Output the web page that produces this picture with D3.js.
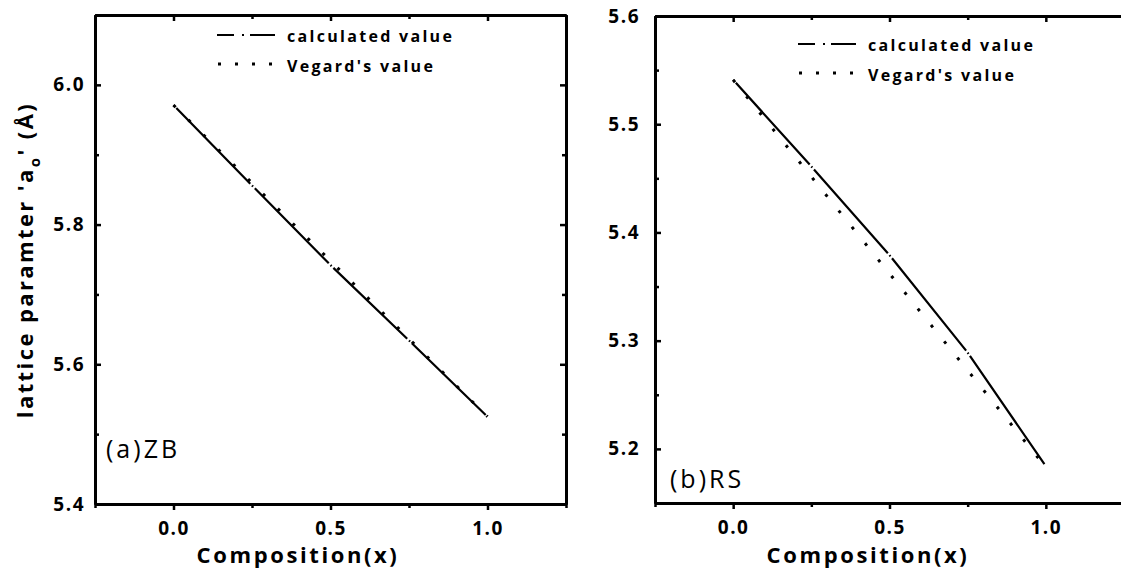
<!DOCTYPE html>
<html>
<head>
  <meta charset="utf-8">
  <script src="https://d3js.org/d3.v7.min.js"></script>
  <style>
    body { margin: 0; background: #fff; }
    text { font-family: "Open Sans", "DejaVu Sans", sans-serif; fill: #000; }
    .axis path, .axis line { stroke: #000; }
    .axis path { stroke-width: 3px; }
    .axis line { stroke-width: 2.5px; }
    .axis text { font-size: 19px; font-weight: bold; letter-spacing: 1.5px; }
  </style>
</head>
<body>
  <svg id="chart" width="1121" height="573"></svg>
  <script>
    // composition points of the calculated curves
    const compX = [0, 0.25, 0.5, 0.75, 1.0];
    const vegardX = [0, 1.0];

    // (a) zinc blende
    const zbCalc = [5.971, 5.856, 5.742, 5.634, 5.525];
    const zbVegard = [5.971, 5.525];
    const zbYTicks = [5.4, 5.6, 5.8, 6.0];
    const zbYMinor = [5.5, 5.7, 5.9, 6.1];

    // (b) rock salt
    const rsCalc = [5.541, 5.461, 5.379, 5.289, 5.184];
    const rsVegard = [5.541, 5.183];
    const rsYTicks = [5.2, 5.3, 5.4, 5.5, 5.6];
    const rsYMinor = [5.15, 5.25, 5.35, 5.45, 5.55];

    const xTicks = [0.0, 0.5, 1.0];
    const xMinor = [-0.25, 0.25, 0.75, 1.25];
    const legendLabels = ["calculated value", "Vegard's value"];
    const panelLabels = ["(a)ZB", "(b)RS"];
    const xTitle = "Composition(x)";

    const svg = d3.select("svg#chart");
    const W = +svg.attr("width");

    const panels = [
      { x0: 95, x1: 566, y0: 15, y1: 504, yDom: [5.4, 6.1], calc: zbCalc, veg: zbVegard,
        yTicks: zbYTicks, yMinor: zbYMinor, label: panelLabels[0], labelPos: [106, 458],
        legend: [217, 35], titleX: 298, yPad: 10, yLabel: true },
      { x0: 655, x1: 1124, y0: 16, y1: 503, yDom: [5.15, 5.6], calc: rsCalc, veg: rsVegard,
        yTicks: rsYTicks, yMinor: rsYMinor, label: panelLabels[1], labelPos: [670, 488],
        legend: [798, 44], titleX: 868, yPad: 15, yLabel: false }
    ];

    panels.forEach(p => {
      const xScale = d3.scaleLinear().domain([-0.25, 1.25]).range([p.x0, p.x1]);
      const yScale = d3.scaleLinear().domain(p.yDom).range([p.y1, p.y0]);
      const g = svg.append("g");

      // frame: bottom / top / left / right axes
      g.append("g").attr("class", "axis xb")
        .attr("transform", `translate(0,${p.y1})`)
        .call(d3.axisBottom(xScale).tickValues(xTicks).tickFormat(d3.format(".1f"))
          .tickSizeInner(6).tickSizeOuter(0).tickPadding(12));
      g.append("g").attr("class", "axis")
        .attr("transform", `translate(0,${p.y1})`)
        .call(d3.axisBottom(xScale).tickValues(xMinor).tickFormat("").tickSizeInner(4).tickSizeOuter(0));
      g.append("g").attr("class", "axis")
        .attr("transform", `translate(0,${p.y0})`)
        .call(d3.axisTop(xScale).tickValues(xTicks).tickFormat("").tickSizeInner(-6).tickSizeOuter(0));
      g.append("g").attr("class", "axis")
        .attr("transform", `translate(0,${p.y0})`)
        .call(d3.axisTop(xScale).tickValues(xMinor).tickFormat("").tickSizeInner(-4).tickSizeOuter(0));

      g.append("g").attr("class", "axis")
        .attr("transform", `translate(${p.x0},0)`)
        .call(d3.axisLeft(yScale).tickValues(p.yTicks).tickFormat(d3.format(".1f"))
          .tickSizeInner(-6).tickSizeOuter(0).tickPadding(p.yPad));
      g.append("g").attr("class", "axis")
        .attr("transform", `translate(${p.x0},0)`)
        .call(d3.axisLeft(yScale).tickValues(p.yMinor).tickFormat("").tickSizeInner(-4).tickSizeOuter(0));
      // right border only when it fits in the window
      if (p.x1 < W) {
        g.append("g").attr("class", "axis")
          .attr("transform", `translate(${p.x1},0)`)
          .call(d3.axisRight(yScale).tickValues(p.yTicks).tickFormat("").tickSizeInner(-6).tickSizeOuter(0));
        g.append("g").attr("class", "axis")
          .attr("transform", `translate(${p.x1},0)`)
          .call(d3.axisRight(yScale).tickValues(p.yMinor).tickFormat("").tickSizeInner(-4).tickSizeOuter(0));
      }

      // Vegard's value: dotted line
      const vegPts = vegardX.map((x, i) => [xScale(x), yScale(p.veg[i])]);
      g.append("path")
        .attr("d", d3.line()(vegPts))
        .attr("fill", "none")
        .attr("stroke", "#000")
        .attr("stroke-width", 3)
        .attr("stroke-dasharray", "3,18");

      // calculated value: long dash with a dot at every point
      const calcPts = compX.map((x, i) => [xScale(x), yScale(p.calc[i])]);
      for (let i = 0; i < calcPts.length - 1; i++) {
        const a = calcPts[i], b = calcPts[i + 1];
        const len = Math.hypot(b[0] - a[0], b[1] - a[1]);
        g.append("path")
          .attr("d", d3.line()([a, b]))
          .attr("fill", "none")
          .attr("stroke", "#000")
          .attr("stroke-width", 2.2)
          .attr("stroke-dasharray", `1.5,2.5,${len - 6.5},2.5`);
      }

      // legend
      const [lx, ly] = p.legend;
      g.append("path")
        .attr("d", d3.line()([[lx, ly], [lx + 58, ly]]))
        .attr("stroke", "#000").attr("stroke-width", 2.2)
        .attr("stroke-dasharray", "17,8,2,6,25");
      g.append("path")
        .attr("d", d3.line()([[lx + 1, ly + 29], [lx + 58, ly + 29]]))
        .attr("stroke", "#000").attr("stroke-width", 3)
        .attr("stroke-dasharray", "3,14");
      legendLabels.forEach((t, i) => {
        g.append("text")
          .attr("x", lx + 70).attr("y", ly + 7 + i * 30)
          .attr("font-size", 16).attr("font-weight", "bold")
          .attr("letter-spacing", 2.3)
          .text(t);
      });

      // panel label
      g.append("text")
        .attr("x", p.labelPos[0]).attr("y", p.labelPos[1])
        .attr("font-size", 25).attr("letter-spacing", 3)
        .text(p.label);

      // x title
      g.append("text")
        .attr("x", p.titleX).attr("y", 563)
        .attr("text-anchor", "middle")
        .attr("font-size", 22).attr("font-weight", "bold")
        .attr("letter-spacing", 2.6)
        .text(xTitle);

      if (p.yLabel) {
        const yl = g.append("text")
          .attr("transform", "translate(33,260) rotate(-90)")
          .attr("text-anchor", "middle")
          .attr("font-size", 22).attr("font-weight", "bold")
          .attr("letter-spacing", 2.4);
        yl.append("tspan").text("lattice paramter 'a");
        yl.append("tspan").attr("font-size", 15).attr("dy", 7).text("o");
        yl.append("tspan").attr("dy", -7).text("' (Å)");
      }
    });
  </script>
</body>
</html>
